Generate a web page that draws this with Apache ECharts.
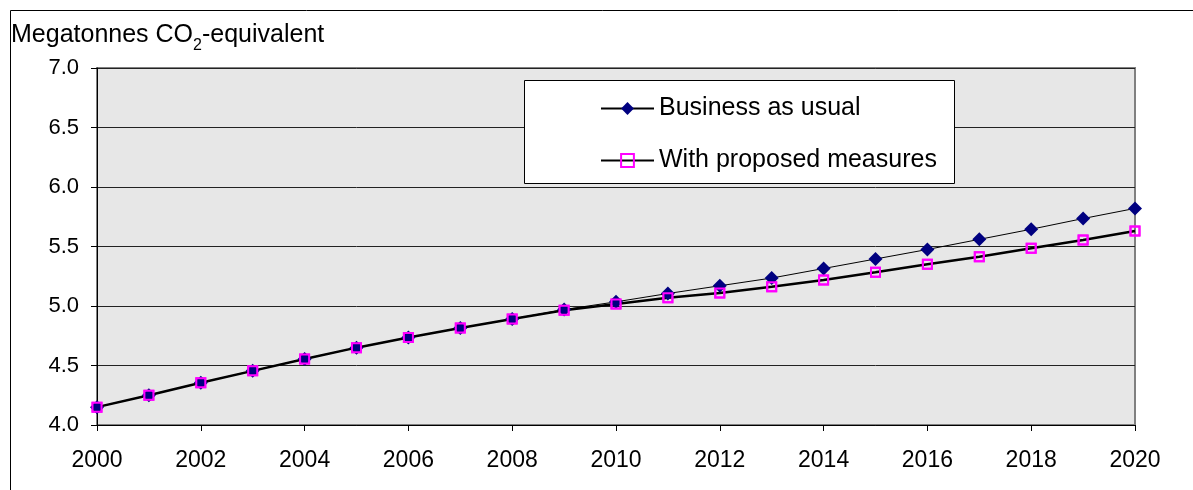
<!DOCTYPE html>
<html>
<head>
<meta charset="utf-8">
<script src="https://cdn.jsdelivr.net/npm/echarts@6/dist/echarts.min.js"></script>
<style>
html,body{margin:0;padding:0;background:#fff;}
#chart{width:1193px;height:490px;}
</style>
</head>
<body>
<div id="chart"></div>
<script>
const years = ['2000','2001','2002','2003','2004','2005','2006','2007','2008','2009','2010',
               '2011','2012','2013','2014','2015','2016','2017','2018','2019','2020'];
const businessAsUsual = [4.15,4.25,4.355,4.455,4.555,4.65,4.735,4.815,4.89,4.97,5.035,
                         5.105,5.17,5.235,5.315,5.395,5.475,5.56,5.645,5.735,5.82];
const withProposed = [4.15,4.25,4.355,4.455,4.555,4.65,4.735,4.815,4.89,4.965,5.017,
                      5.07,5.11,5.162,5.218,5.283,5.35,5.414,5.485,5.555,5.63];
const yTicks = {min: 4.0, max: 7.0, step: 0.5};
const seriesNames = ['Business as usual', 'With proposed measures'];
const yTitle = ['Megatonnes CO', '2', '-equivalent'];

const FONT = '"Liberation Sans", Arial, sans-serif';
const chart = echarts.init(document.getElementById('chart'), null, {renderer: 'canvas'});
chart.setOption({
  animation: false,
  backgroundColor: '#fff',
  textStyle: {fontFamily: FONT, color: '#000'},
  title: {
    left: 11, top: 20, padding: 0,
    text: '{a|' + yTitle[0] + '}{s|' + yTitle[1] + '}{a|' + yTitle[2] + '}',
    textStyle: {
      fontWeight: 'normal',
      rich: {
        a: {fontFamily: FONT, fontSize: 25, fontWeight: 'normal', color: '#000', lineHeight: 28, verticalAlign: 'bottom'},
        s: {fontFamily: FONT, fontSize: 16, fontWeight: 'normal', color: '#000', lineHeight: 28, verticalAlign: 'bottom', padding: [0, 0, -6, 0]}
      }
    }
  },
  graphic: [
    {type: 'rect', z: -10, shape: {x: 10.5, y: 10.5, width: 1300, height: 600},
     style: {fill: 'none', stroke: '#000', lineWidth: 1}},
    {type: 'rect', z: 50, shape: {x: 524.5, y: 80.5, width: 430, height: 103},
     style: {fill: '#fff', stroke: '#000', lineWidth: 1}}
  ],
  legend: {
    z: 60,
    orient: 'vertical',
    left: 600, top: 96, padding: 0,
    itemWidth: 53, itemHeight: 16,
    itemGap: 27,
    data: seriesNames,
    textStyle: {fontFamily: FONT, fontSize: 25, color: '#000', lineHeight: 25}
  },
  grid: {
    left: 97, right: 58, top: 68, bottom: 65,
    show: true, backgroundColor: '#e7e7e7', borderColor: '#808080', borderWidth: 2
  },
  xAxis: {
    type: 'category', data: years, boundaryGap: false,
    axisLine: {lineStyle: {color: '#000', width: 1}},
    axisTick: {show: true, length: 6, interval: 1, lineStyle: {color: '#000'}},
    axisLabel: {interval: 1, margin: 24, fontFamily: FONT, fontSize: 23, color: '#000'},
    splitLine: {show: false}
  },
  yAxis: {
    type: 'value', min: yTicks.min, max: yTicks.max, interval: yTicks.step,
    axisLine: {show: true, lineStyle: {color: '#000', width: 1}},
    axisTick: {show: true, length: 6, lineStyle: {color: '#000'}},
    axisLabel: {margin: 18, fontFamily: FONT, fontSize: 22, color: '#000',
                formatter: v => v.toFixed(1)},
    splitLine: {show: true, lineStyle: {color: '#222', width: 1}}
  },
  series: [
    {
      name: seriesNames[1], type: 'line', data: withProposed, z: 2,
      symbol: 'rect', symbolSize: 9,
      itemStyle: {color: 'rgba(0,0,0,0)', borderColor: '#ff00ff', borderWidth: 2},
      lineStyle: {color: '#000', width: 2.5}
    },
    {
      name: seriesNames[0], type: 'line', data: businessAsUsual, z: 3,
      symbol: 'diamond', symbolSize: 14,
      itemStyle: {color: '#000080'},
      lineStyle: {color: '#000', width: 1}
    },
    {
      name: 'markers-overlay', type: 'line', data: withProposed, z: 4,
      symbol: 'rect', symbolSize: 9,
      itemStyle: {color: 'rgba(0,0,0,0)', borderColor: '#ff00ff', borderWidth: 2},
      lineStyle: {width: 0, opacity: 0}
    }
  ]
});
</script>
</body>
</html>
